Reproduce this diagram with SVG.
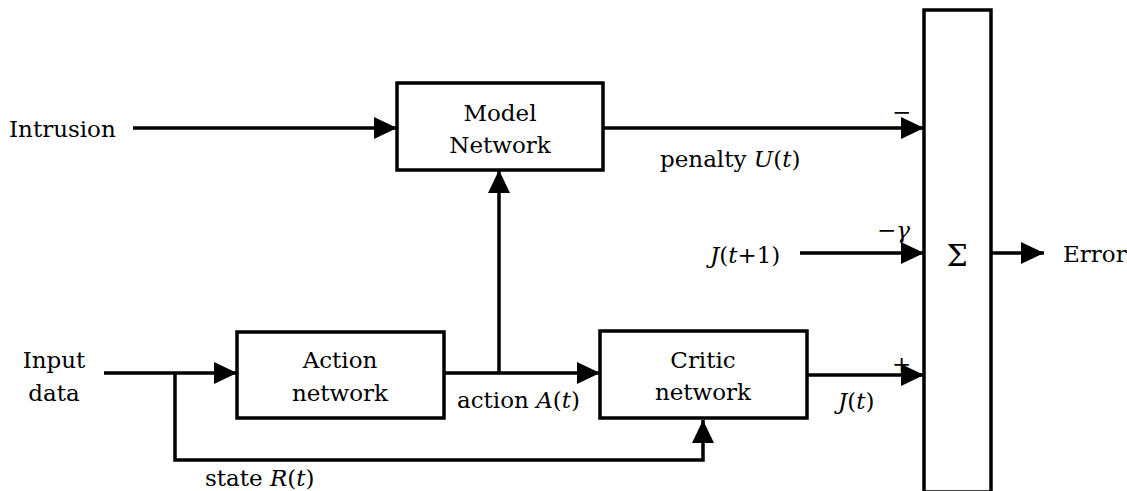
<svg xmlns="http://www.w3.org/2000/svg" width="1127" height="491" viewBox="0 0 1127 491">
<style>
.box{fill:#fff;stroke:#000;stroke-width:3.5}
.ln{fill:none;stroke:#000;stroke-width:3.5}
.arr{marker-end:url(#ah)}
.c{text-anchor:middle}
.i{font-style:italic}
</style>
<defs>
<marker id="ah" markerUnits="userSpaceOnUse" markerWidth="24" markerHeight="24" refX="23" refY="11" orient="auto">
<path d="M0,0 L23,11 L0,22 z" fill="#000"/>
</marker>
</defs>
<rect width="1127" height="491" fill="#fff"/>
<g id="connectors">
<line class="ln arr" x1="133" y1="128" x2="397" y2="128"/>
<line class="ln arr" x1="603" y1="128" x2="924" y2="128"/>
<line class="ln arr" x1="800" y1="253" x2="924" y2="253"/>
<line class="ln arr" x1="991" y1="253" x2="1044" y2="253"/>
<line class="ln arr" x1="104" y1="373" x2="237" y2="373"/>
<polyline class="ln arr" points="175,373 175,460 703,460 703,420"/>
<line class="ln arr" x1="444" y1="373" x2="600" y2="373"/>
<line class="ln arr" x1="499" y1="373" x2="499" y2="170"/>
<line class="ln arr" x1="807" y1="375" x2="924" y2="375"/>
</g>
<g font-family="'DejaVu Serif', serif" font-size="23" fill="#000">
<g id="model">
<rect class="box" x="397" y="83" width="206" height="87"/>
<text class="c" x="500" y="121">Model</text>
<text class="c" x="500" y="153">Network</text>
</g>
<g id="action">
<rect class="box" x="237" y="332" width="207" height="86"/>
<text class="c" x="340" y="368">Action</text>
<text class="c" x="340" y="401">network</text>
</g>
<g id="critic">
<rect class="box" x="600" y="331" width="207" height="87"/>
<text class="c" x="703" y="368">Critic</text>
<text class="c" x="703" y="400">network</text>
</g>
<g id="sum">
<rect class="box" x="924" y="10" width="67" height="482"/>
<text class="c" x="957" y="266" font-size="30">Σ</text>
</g>
<g id="labels">
<text x="9" y="137">Intrusion</text>
<text class="c" x="54" y="368">Input</text>
<text class="c" x="54" y="401">data</text>
<text x="660" y="167">penalty <tspan class="i">U</tspan>(<tspan class="i">t</tspan>)</text>
<text x="710" y="263"><tspan class="i">J</tspan>(<tspan class="i">t</tspan>+1)</text>
<text x="1063" y="262">Error</text>
<text x="457" y="408">action <tspan class="i">A</tspan>(<tspan class="i">t</tspan>)</text>
<text x="205" y="486">state <tspan class="i">R</tspan>(<tspan class="i">t</tspan>)</text>
<text x="838" y="409"><tspan class="i">J</tspan>(<tspan class="i">t</tspan>)</text>
<text x="892" y="120">−</text>
<text x="877" y="238">−<tspan class="i">γ</tspan></text>
<text x="892" y="372">+</text>
</g>
</g>
</svg>
